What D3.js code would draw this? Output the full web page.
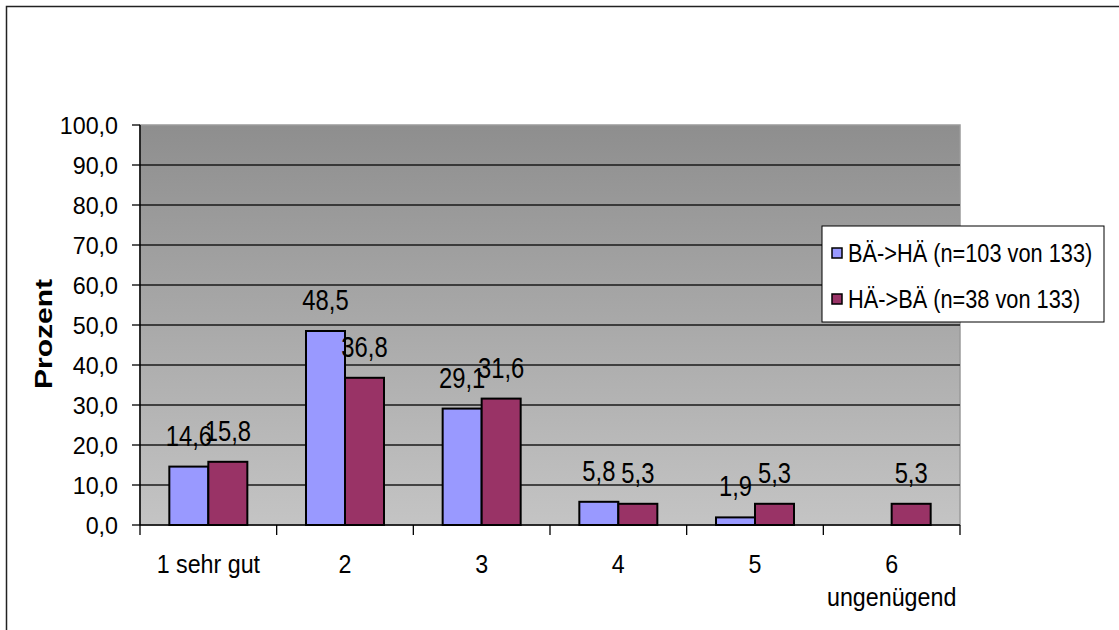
<!DOCTYPE html>
<html>
<head>
<meta charset="utf-8">
<script src="https://cdn.jsdelivr.net/npm/d3@7"></script>
<style>
  body { margin: 0; background: #fff; }
  text { font-family: "Liberation Sans", Arial, sans-serif; fill: #000; }
</style>
</head>
<body>
<script>
const categories = ["1 sehr gut", "2", "3", "4", "5", "6\nungenügend"];
const seriesNames = ["BÄ->HÄ (n=103 von 133)", "HÄ->BÄ (n=38 von 133)"];
const valuesBH = [14.6, 48.5, 29.1, 5.8, 1.9, null];
const valuesHB = [15.8, 36.8, 31.6, 5.3, 5.3, 5.3];
const yTicks = [0, 10, 20, 30, 40, 50, 60, 70, 80, 90, 100];
const colors = ["#9999ff", "#993366"];

const width = 1119, height = 630;
const margin = {top: 125, right: 159, bottom: 105, left: 140};
const innerWidth = width - margin.left - margin.right;
const innerHeight = height - margin.top - margin.bottom;

const comma = v => d3.format(".1f")(v).replace(".", ",");

const svg = d3.select("body").append("svg")
  .attr("width", width).attr("height", height);

// outer frame
svg.append("path")
  .attr("d", `M6.5,${height} V6.5 H${width}`)
  .attr("fill", "none").attr("stroke", "#222").attr("stroke-width", 1.5);

const defs = svg.append("defs");
const grad = defs.append("linearGradient").attr("id", "bg")
  .attr("x1", 0).attr("y1", 0).attr("x2", 0).attr("y2", 1);
grad.append("stop").attr("offset", "0%").attr("stop-color", "#8e8e8e");
grad.append("stop").attr("offset", "100%").attr("stop-color", "#c4c4c4");

const g = svg.append("g").attr("transform", `translate(${margin.left},${margin.top})`);

const x0 = d3.scaleBand().domain(categories).range([0, innerWidth]);
const x1 = d3.scaleBand().domain([0, 1]).range([0, x0.bandwidth()]).paddingOuter(0.752);
const y = d3.scaleLinear().domain([0, 100]).range([innerHeight, 0]);

// plot background
g.append("rect")
  .attr("width", innerWidth).attr("height", innerHeight)
  .attr("fill", "url(#bg)").attr("stroke", "#9a9a9a").attr("stroke-width", 1.5);

// gridlines
g.selectAll("line.grid").data(yTicks.filter(t => t > 0 && t < 100))
  .join("line").attr("class", "grid")
  .attr("x1", 0).attr("x2", innerWidth)
  .attr("y1", d => y(d)).attr("y2", d => y(d))
  .attr("stroke", "#1a1a1a").attr("stroke-width", 1.3);

// text helper: narrowed text via textLength (the source chart is squeezed sideways)
function label(parent, x, yy, str, size, sx, anchor) {
  const t = parent.append("text")
    .attr("x", x).attr("y", yy)
    .attr("text-anchor", anchor)
    .style("font-size", size + "px")
    .text(str);
  const len = t.node().getComputedTextLength();
  t.attr("textLength", len * sx).attr("lengthAdjust", "spacingAndGlyphs");
  return t;
}

// y axis
const yAxis = g.append("g");
yAxis.append("line").attr("x1", 0).attr("x2", 0).attr("y1", 0).attr("y2", innerHeight)
  .attr("stroke", "#000").attr("stroke-width", 1.5);
yTicks.forEach(t => {
  yAxis.append("line").attr("x1", -8).attr("x2", 0).attr("y1", y(t)).attr("y2", y(t))
    .attr("stroke", "#000").attr("stroke-width", 1.3);
  label(yAxis, -22, y(t) + 8.6, comma(t), 24, 0.97, "end");
});

// x axis
const xAxis = g.append("g").attr("transform", `translate(0,${innerHeight})`);
xAxis.append("line").attr("x1", 0).attr("x2", innerWidth)
  .attr("stroke", "#000").attr("stroke-width", 1.5);
const boundaries = categories.map(c => x0(c)).concat([innerWidth]);
boundaries.forEach(b => {
  xAxis.append("line").attr("x1", b).attr("x2", b).attr("y1", 0).attr("y2", 10)
    .attr("stroke", "#000").attr("stroke-width", 1.3);
});
categories.forEach(c => {
  c.split("\n").forEach((line, i) => {
    label(xAxis, x0(c) + x0.bandwidth() / 2, 48 + i * 33, line, 25, 0.93, "middle");
  });
});

// bars
const series = [valuesBH, valuesHB];
series.forEach((vals, si) => {
  const sg = g.append("g");
  vals.forEach((v, ci) => {
    if (v == null) return;
    const c = categories[ci];
    sg.append("rect")
      .attr("x", x0(c) + x1(si)).attr("y", y(v))
      .attr("width", x1.bandwidth()).attr("height", y(0) - y(v))
      .attr("fill", colors[si]).attr("stroke", "#000").attr("stroke-width", 2);
  });
});
// data labels on top
series.forEach((vals, si) => {
  vals.forEach((v, ci) => {
    if (v == null) return;
    const c = categories[ci];
    label(g, x0(c) + x1(si) + x1.bandwidth() / 2, y(v) - 21, comma(v), 29, 0.82, "middle");
  });
});

// y title
svg.append("g")
  .attr("transform", "translate(52,334) rotate(-90) scale(1,0.8)")
  .append("text")
  .attr("text-anchor", "middle")
  .style("font-size", "30px").style("font-weight", "bold")
  .text("Prozent");

// legend
const legend = svg.append("g").attr("transform", "translate(822,226)");
legend.append("rect").attr("width", 282).attr("height", 96)
  .attr("fill", "#fff").attr("stroke", "#000").attr("stroke-width", 1);
seriesNames.forEach((name, i) => {
  const cy = 27 + i * 46;
  legend.append("rect").attr("x", 10).attr("y", cy - 5).attr("width", 10).attr("height", 10)
    .attr("fill", colors[i]).attr("stroke", "#000").attr("stroke-width", 1.5);
  label(legend, 26, cy + 9, name, 25, 0.87, "start");
});
</script>
</body>
</html>
